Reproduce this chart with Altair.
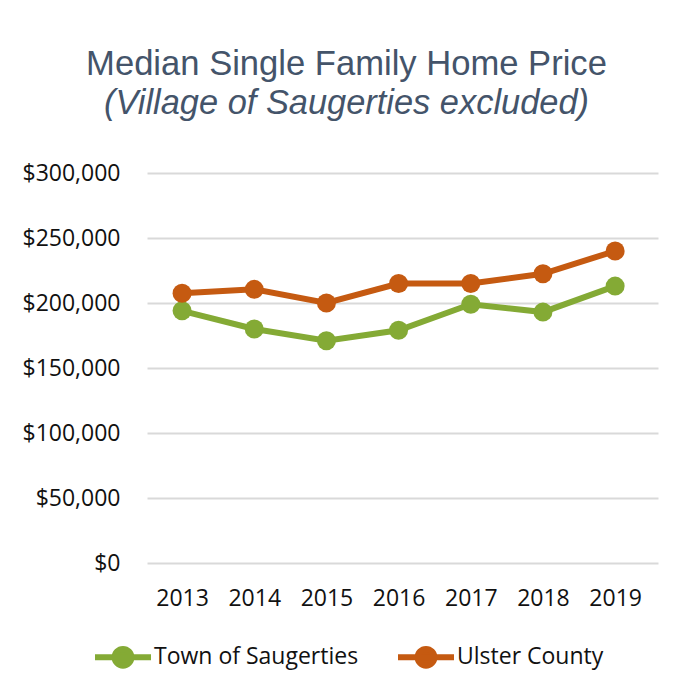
import altair as alt
import pandas as pd

years = ["2013", "2014", "2015", "2016", "2017", "2018", "2019"]
saugerties = [194000, 180000, 171000, 179000, 199000, 193000, 213000]
ulster = [207500, 210500, 200000, 215000, 215000, 222500, 240000]
series_names = ["Town of Saugerties", "Ulster County"]
series_colors = ["#84AA35", "#C55A11"]

rows = []
for y, v in zip(years, saugerties):
    rows.append({"Year": y, "Price": v, "Series": series_names[0]})
for y, v in zip(years, ulster):
    rows.append({"Year": y, "Price": v, "Series": series_names[1]})
df = pd.DataFrame(rows)

LABEL_FONT = "Open Sans"

legend_symbol = ("M-1,0L1,0M0.3,0A0.3,0.3 0 1,1 -0.3,0A0.3,0.3 0 1,1 0.3,0Z")

x = alt.X("Year:N", sort=years,
          scale=alt.Scale(type="point", padding=0.54, align=0.45),
          axis=alt.Axis(title=None, labelAngle=0, domain=False, ticks=False,
                        grid=False, labelPadding=24, labelFont=LABEL_FONT,
                        labelFontSize=23, labelColor="#111111"))
y = alt.Y("Price:Q",
          scale=alt.Scale(domain=[0, 300000]),
          axis=alt.Axis(title=None, values=[0, 50000, 100000, 150000, 200000, 250000, 300000],
                        format="$,.0f", domain=False, ticks=False,
                        gridColor="#D9D9D9", gridWidth=2, labelPadding=27,
                        labelFont=LABEL_FONT, labelFontSize=23, labelColor="#111111"))
color = alt.Color("Series:N", sort=series_names,
                  scale=alt.Scale(domain=series_names, range=series_colors),
                  legend=alt.Legend(title=None, orient="none", direction="horizontal",
                                    legendX=-55, legendY=453,
                                    symbolType=legend_symbol, symbolSize=3136,
                                    symbolStrokeWidth=6,
                                    labelFont=LABEL_FONT, labelFontSize=23,
                                    labelColor="#111111", labelOffset=0,
                                    labelLimit=400, columnPadding=27))

lines = alt.Chart(df).mark_line(strokeWidth=6).encode(x=x, y=y, color=color)
points = alt.Chart(df).mark_point(filled=True, size=361, opacity=1, shape="circle").encode(
    x=x, y=y, color=alt.Color("Series:N", sort=series_names,
                              scale=alt.Scale(domain=series_names, range=series_colors),
                              legend=None))

chart = alt.layer(lines, points).properties(
    width=511, height=390,
    background="white",
    title=alt.TitleParams(
        text="Median Single Family Home Price",
        subtitle="(Village of Saugerties excluded)",
        font="Liberation Sans", subtitleFont="Liberation Sans",
        fontSize=34.6, subtitleFontSize=34.4, fontWeight="normal",
        subtitleFontStyle="italic", color="#44546A", subtitleColor="#44546A",
        anchor="middle", dx=-56, offset=41, subtitlePadding=4),
    autosize=alt.AutoSizeParams(type="none"),
    padding={"left": 139, "top": 165, "right": 17, "bottom": 122},
).configure_view(strokeWidth=0, stroke="transparent")

chart.save("out.html", embed_options={"renderer": "svg", "actions": False})
